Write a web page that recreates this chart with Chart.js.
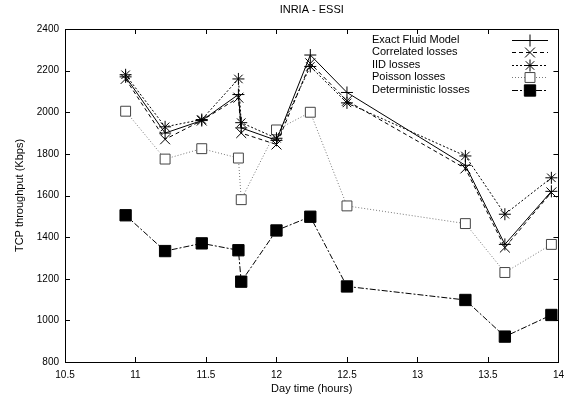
<!DOCTYPE html>
<html>
<head>
<meta charset="utf-8">
<script src="https://cdn.jsdelivr.net/npm/chart.js@4.4.1/dist/chart.umd.min.js"></script>
<style>
    html, body { margin: 0; padding: 0; background: #fff; }
    #wrap { width: 571px; height: 401px; }
</style>
</head>
<body>
<div id="wrap"><canvas id="myChart" width="571" height="401"></canvas></div>
<script>
let titleText = 'INRIA - ESSI';
let xTitle = 'Day time (hours)';
let yTitle = 'TCP throughput (Kbps)';

let times = [10.93, 11.21, 11.47, 11.73, 11.75, 12.0, 12.24, 12.5, 13.34, 13.62, 13.95];

let exactFluid = [2170, 1900, 1960, 2085, 1925, 1865, 2275, 2095, 1745, 1365, 1620];
let correlatedLosses = [2160, 1870, 1960, 2070, 1900, 1845, 2235, 2055, 1730, 1350, 1615];
let iidLosses = [2180, 1930, 1965, 2160, 1950, 1875, 2220, 2045, 1790, 1510, 1685];
let poissonLosses = [2005, 1775, 1825, 1780, 1580, 1915, 2000, 1550, 1465, 1230, 1365];
let deterministicLosses = [1505, 1333, 1370, 1337, 1186, 1432, 1498, 1163, 1098, 922, 1026];

let seriesNames = ['Exact Fluid Model', 'Correlated losses', 'IID losses', 'Poisson losses', 'Deterministic losses'];

let xTicks = [10.5, 11, 11.5, 12, 12.5, 13, 13.5, 14];
let yTicks = [800, 1000, 1200, 1400, 1600, 1800, 2000, 2200, 2400];

let fontName = '"Liberation Sans", Arial, Helvetica, sans-serif';

function toPoints(values) {
    let pts = [];
    for (let i = 0; i < times.length; i++) {
        pts.push({ x: times[i], y: values[i] });
    }
    return pts;
}

function makeSet(label, values, style) {
    return {
        label: label,
        data: toPoints(values),
        borderColor: style.line,
        borderWidth: 1,
        borderDash: style.dash,
        pointStyle: style.point,
        pointRadius: style.radius,
        pointBorderColor: style.pointColor,
        pointBackgroundColor: style.fill,
        pointBorderWidth: 1,
        pointHoverRadius: style.radius,
        showLine: true,
        tension: 0,
        fill: false
    };
}

// gnuplot-like frame, inward ticks, title and legend
let framePlugin = {
    id: 'frame',
    afterDraw(chart) {
        let ctx = chart.ctx;
        let area = chart.chartArea;
        let xs = chart.scales.x;
        let ys = chart.scales.y;

        ctx.save();
        ctx.strokeStyle = '#000';
        ctx.lineWidth = 1;
        ctx.setLineDash([]);
        ctx.strokeRect(Math.round(area.left) + 0.5, Math.round(area.top) + 0.5,
            Math.round(area.right - area.left), Math.round(area.bottom - area.top));

        ctx.beginPath();
        for (let i = 0; i < xTicks.length; i++) {
            let px = Math.round(xs.getPixelForValue(xTicks[i])) + 0.5;
            ctx.moveTo(px, area.bottom);
            ctx.lineTo(px, area.bottom - 5);
            ctx.moveTo(px, area.top);
            ctx.lineTo(px, area.top + 5);
        }
        for (let i = 0; i < yTicks.length; i++) {
            let py = Math.round(ys.getPixelForValue(yTicks[i])) + 0.5;
            ctx.moveTo(area.left, py);
            ctx.lineTo(area.left + 5, py);
            ctx.moveTo(area.right, py);
            ctx.lineTo(area.right - 5, py);
        }
        ctx.stroke();

        ctx.fillStyle = '#000';
        ctx.font = '11px ' + fontName;
        ctx.textAlign = 'center';
        ctx.textBaseline = 'middle';
        ctx.fillText(titleText, (area.left + area.right) / 2, 10);

        // legend: text on the left, sample line + marker on the right
        ctx.textAlign = 'left';
        for (let i = 0; i < chart.data.datasets.length; i++) {
            let ds = chart.data.datasets[i];
            let y = 39.5 + i * 12.6;
            ctx.fillStyle = '#000';
            ctx.fillText(ds.label, 372, y);

            ctx.strokeStyle = ds.borderColor;
            ctx.setLineDash(ds.borderDash);
            ctx.beginPath();
            ctx.moveTo(512, Math.round(y) + 0.5);
            ctx.lineTo(548, Math.round(y) + 0.5);
            ctx.stroke();
            ctx.setLineDash([]);

            ctx.strokeStyle = ds.pointBorderColor;
            ctx.fillStyle = ds.pointBackgroundColor;
            ctx.lineWidth = 1;
            Chart.helpers.drawPoint(ctx, {
                pointStyle: ds.pointStyle,
                radius: ds.pointRadius,
                rotation: 0,
                borderWidth: 1
            }, 530, Math.round(y) + 0.5);
        }
        ctx.restore();
    }
};

let ctx = document.getElementById('myChart').getContext('2d');

new Chart(ctx, {
    type: 'scatter',
    data: {
        datasets: [
            makeSet(seriesNames[0], exactFluid, { line: '#000', dash: [], point: 'cross', radius: 6, pointColor: '#000', fill: '#000' }),
            makeSet(seriesNames[1], correlatedLosses, { line: '#000', dash: [4, 3], point: 'crossRot', radius: 7, pointColor: '#000', fill: '#000' }),
            makeSet(seriesNames[2], iidLosses, { line: '#000', dash: [2, 2], point: 'star', radius: 6, pointColor: '#000', fill: '#000' }),
            makeSet(seriesNames[3], poissonLosses, { line: '#777', dash: [1, 2], point: 'rect', radius: 7, pointColor: '#444', fill: '#fff' }),
            makeSet(seriesNames[4], deterministicLosses, { line: '#000', dash: [6, 2, 2, 2], point: 'rect', radius: 8, pointColor: '#000', fill: '#000' })
        ]
    },
    options: {
        responsive: false,
        animation: false,
        clip: false,
        layout: {
            padding: { top: 29, right: 9, left: 0, bottom: 0 }
        },
        plugins: {
            legend: { display: false },
            title: { display: false },
            tooltip: { enabled: false }
        },
        scales: {
            x: {
                type: 'linear',
                min: 10.5,
                max: 14,
                afterFit(scale) { scale.height = 39; },
                afterBuildTicks(scale) { scale.ticks = xTicks.map(function (v) { return { value: v }; }); },
                grid: { display: false, drawTicks: false },
                border: { display: false },
                ticks: {
                    color: '#000',
                    padding: 7,
                    maxRotation: 0,
                    font: { family: fontName, size: 10 },
                    callback: function (v) { return String(v); }
                },
                title: {
                    display: true,
                    text: xTitle,
                    color: '#000',
                    font: { family: fontName, size: 11 },
                    padding: { top: 5, bottom: 5 }
                }
            },
            y: {
                type: 'linear',
                min: 800,
                max: 2400,
                afterFit(scale) { scale.width = 65; },
                afterBuildTicks(scale) { scale.ticks = yTicks.map(function (v) { return { value: v }; }); },
                grid: { display: false, drawTicks: false },
                border: { display: false },
                ticks: {
                    color: '#000',
                    padding: 6,
                    font: { family: fontName, size: 10 },
                    callback: function (v) { return String(v); }
                },
                title: {
                    display: true,
                    text: yTitle,
                    color: '#000',
                    font: { family: fontName, size: 11 },
                    padding: { top: 13, bottom: 0 }
                }
            }
        }
    },
    plugins: [framePlugin]
});
</script>
</body>
</html>
